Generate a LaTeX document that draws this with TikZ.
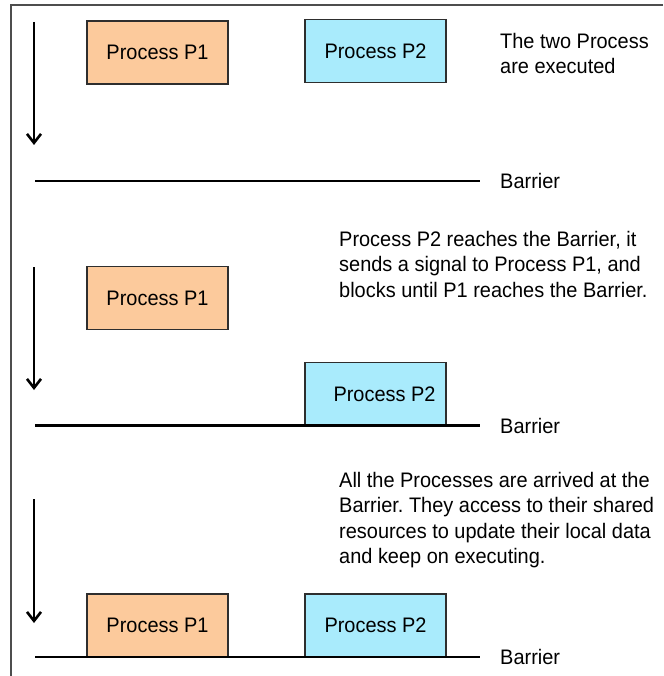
\documentclass[tikz,border=0pt]{standalone}
\usepackage{fontspec}
\setmainfont[FakeStretch=0.95]{Liberation Sans}
\usepackage{xcolor}
\usetikzlibrary{arrows.meta, positioning}
\frenchspacing

\definecolor{peach}{HTML}{FCCA9C}
\definecolor{sky}{HTML}{A9EBFC}
\definecolor{edge}{HTML}{2E2E2E}

\begin{document}
\begin{tikzpicture}[
    x=1pt, y=-1pt,
    every node/.style={font=\fontsize{21}{25.5}\selectfont},
    proc/.style={rectangle, draw=edge, line width=1.2pt, minimum width=141pt,
        minimum height=63pt, inner sep=0pt},
    procA/.style={proc, fill=peach},
    procB/.style={proc, fill=sky},
    note/.style={align=left, anchor=north west, inner sep=0pt},
    barrier/.style={line width=2.4pt},
    timeline/.style={-{Straight Barb[length=9pt, width=14pt]}, line width=2.6pt},
]

\useasboundingbox (0,0) rectangle (663,676);

% frame
\coordinate (ftr) at (663,5);
\coordinate (ftl) at (11,5);
\coordinate (fbl) at (11,676);
\draw[edge!85, line width=1.3pt] (ftr) -- (ftl) -- (fbl);

% stage 1
\coordinate (t1s) at (34,22);
\coordinate (t1e) at (34,145);
\draw[timeline] (t1s) -- (t1e);
\node[procA] (p1a) at (157.5,52.5) {Process P1};
\node[procB] (p2a) at (375.5,51) {Process P2};
\node[note] (notea) at (500,33) {The two Process\\are executed};
\coordinate (b1s) at (35,181);
\coordinate (b1e) at (480,181);
\draw[barrier] (b1s) -- (b1e);
\node[right=20pt of b1e, inner sep=0pt] (bara) {Barrier};

% stage 2
\coordinate (t2s) at (34,267);
\coordinate (t2e) at (34,390);
\draw[timeline] (t2s) -- (t2e);
\node[procA] (p1b) at (157.5,298) {Process P1};
\node[procB] (p2b) at (375.5,394) {\hspace*{18pt}Process P2};
\node[note] (noteb) at (339,231)
    {Process P2 reaches the Barrier, it\\
     sends a signal to Process P1, and\\
     blocks until P1 reaches the Barrier.};
\coordinate (b2s) at (35,425.5);
\coordinate (b2e) at (480,425.5);
\draw[barrier] (b2s) -- (b2e);
\node[right=20pt of b2e, inner sep=0pt] (barb) {Barrier};

% stage 3
\coordinate (t3s) at (34,499);
\coordinate (t3e) at (34,623);
\draw[timeline] (t3s) -- (t3e);
\node[procA] (p1c) at (157.5,625.5) {Process P1};
\node[procB] (p2c) at (375.5,625.5) {Process P2};
\node[note] (notec) at (339,472)
    {All the Processes are arrived at the\\
     Barrier. They access to their shared\\
     resources to update their local data\\
     and keep on executing.};
\coordinate (b3s) at (35,657);
\coordinate (b3e) at (480,657);
\draw[barrier] (b3s) -- (b3e);
\node[right=20pt of b3e, inner sep=0pt] (barc) {Barrier};

\end{tikzpicture}
\end{document}
